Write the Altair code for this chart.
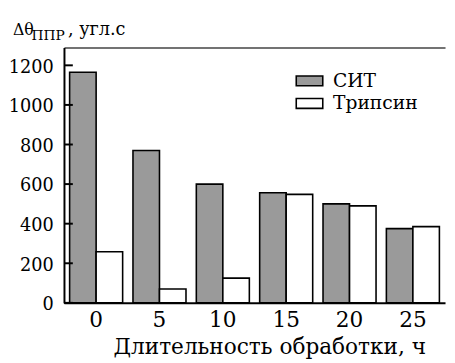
import altair as alt
import pandas as pd

hours = ["0", "5", "10", "15", "20", "25"]
sit = [1165, 770, 600, 556, 500, 375]
trypsin = [258, 70, 125, 548, 490, 385]
series_names = ["СИТ", "Трипсин"]
y_ticks = [0, 200, 400, 600, 800, 1000, 1200]

rows = []
for h, a, b in zip(hours, sit, trypsin):
    rows.append({"t": h, "series": series_names[0], "v": a})
    rows.append({"t": h, "series": series_names[1], "v": b})
df = pd.DataFrame(rows)

W, H = 388, 260
FONT = "DejaVu Serif"

xscale = alt.Scale(domain=hours, paddingInner=0.163, paddingOuter=0.089)
yscale = alt.Scale(domain=[0, 1290], nice=False)

bars = alt.Chart(df).mark_bar(stroke="black", strokeWidth=1.6).encode(
    x=alt.X("t:O", scale=xscale, sort=hours,
            axis=alt.Axis(title="Длительность обработки, ч", labelAngle=0, ticks=False,
                          labelFontSize=22, labelPadding=7, titleFontSize=22,
                          titlePadding=7, titleX=209, titleAnchor="middle",
                          labelFont=FONT, titleFont=FONT,
                          domainColor="black", domainWidth=2, labelColor="black",
                          titleColor="black", titleFontWeight="normal")),
    xOffset=alt.XOffset("series:N", sort=series_names,
                        scale=alt.Scale(paddingInner=0, paddingOuter=0)),
    y=alt.Y("v:Q", scale=yscale,
            axis=alt.Axis(title=None, values=y_ticks, ticks=False, grid=False, format="d",
                          labelFontSize=18, labelPadding=11, labelOffset=2,
                          domainColor="black", labelFont=FONT,
                          domainWidth=2, labelColor="black")),
    fill=alt.Fill("series:N", sort=series_names,
                  scale=alt.Scale(domain=series_names, range=["#9a9a9a", "#ffffff"]),
                  legend=alt.Legend(title=None, orient="none", legendX=239, legendY=23,
                                    symbolType="M-1.35,-0.5H1.35V0.5H-1.35Z", symbolSize=400,
                                    symbolStrokeColor="black", symbolStrokeWidth=1.6,
                                    symbolOpacity=1, labelFontSize=19, labelFont=FONT,
                                    labelColor="black", labelOffset=13, rowPadding=2)),
)

tick_df = pd.DataFrame({"tv": y_ticks})
ticks = alt.Chart(tick_df).mark_rule(stroke="black", strokeWidth=2).encode(
    y=alt.Y("tv:Q", scale=yscale), x=alt.value(0), x2=alt.value(9)
)

top_axis = alt.Chart(pd.DataFrame({"t": hours})).mark_point(opacity=0).encode(
    x=alt.X("t:O", scale=xscale, sort=hours,
            axis=alt.Axis(orient="top", title=None, labels=False, ticks=False,
                          domainColor="#444444", domainWidth=1.6))
)

t1 = alt.Chart(pd.DataFrame({"s": ["Δθ"]})).mark_text(
    align="left", baseline="alphabetic", fontSize=16, color="black", font=FONT
).encode(text="s:N", x=alt.value(-52), y=alt.value(-13))
t2 = alt.Chart(pd.DataFrame({"s": ["ППР"]})).mark_text(
    align="left", baseline="alphabetic", fontSize=14, color="black", font=FONT
).encode(text="s:N", x=alt.value(-33), y=alt.value(-8))
t3 = alt.Chart(pd.DataFrame({"s": [", угл.с"]})).mark_text(
    align="left", baseline="alphabetic", fontSize=18, color="black", font=FONT
).encode(text="s:N", x=alt.value(4), y=alt.value(-13))

chart = alt.layer(bars, ticks, top_axis, t1, t2, t3).resolve_axis(x="independent").properties(
    width=W, height=H,
    autosize=alt.AutoSizeParams(type="none"),
    padding={"left": 57, "top": 37, "right": 2, "bottom": 58},
    background="white",
).configure_view(stroke=None)

chart.save("out.html", embed_options={"renderer": "svg", "actions": False})
